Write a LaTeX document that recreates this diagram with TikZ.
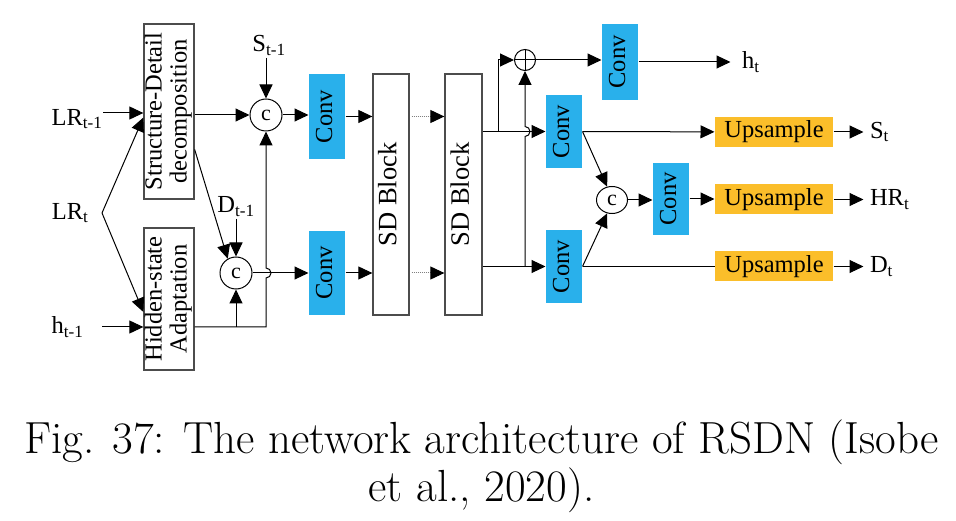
\documentclass[tikz,border=0pt]{standalone}
\usepackage{fontspec}
\setmainfont{Liberation Serif}
\usepackage{tikz}
\usetikzlibrary{positioning}
\usetikzlibrary{arrows.meta}
\usetikzlibrary{shapes.geometric}
\usepackage{xcolor}
\definecolor{convblue}{RGB}{41,176,235}
\definecolor{upyellow}{RGB}{251,190,42}
\newcommand{\capfont}{\fontfamily{lmr}\selectfont}
\newcommand{\vtext}[1]{\rotatebox{90}{\begin{tabular}{@{}c@{}}#1\end{tabular}}}

\begin{document}
\begin{tikzpicture}[x=1pt, y=-1pt, line width=1pt,
  every node/.style={font=\fontsize{24.5}{25}\selectfont, inner sep=0pt},
  arr/.style={-{Triangle[length=14pt,width=13pt]}},
  blockbox/.style={draw=black!70, line width=1.3pt, fill=white, minimum width=#1},
  blockbox/.default=50pt,
  conv/.style={fill=convblue, minimum width=36pt},
  upbox/.style={fill=upyellow, minimum width=118pt, minimum height=30pt},
  cat/.style={draw, circle, minimum size=32pt, font=\fontsize{22}{22}\selectfont},
  lbl/.style={inner sep=2pt}]
  \useasboundingbox (0,0) rectangle (956,521);

  \node[blockbox, minimum height=175pt] (sdd) at (169,111.5) {\vtext{Structure-Detail\\decomposition}};
  \node[blockbox, minimum height=142pt] (hsa) at (169,299) {\vtext{Hidden-state\\Adaptation}};
  \node[cat] (catA) at (266,115) {c};
  \node[cat] (catB) at (236,273) {c};
  \node[conv, minimum height=85pt] (convA) at (327,116.5) {\vtext{Conv}};
  \node[conv, minimum height=84pt] (convB) at (327,273) {\vtext{Conv}};
  \node[blockbox=36pt, minimum height=241pt, font=\fontsize{26.5}{27}\selectfont] (sdb1) at (391,194.5) {\vtext{SD Block}};
  \node[blockbox=37pt, minimum height=241pt, font=\fontsize{26.5}{27}\selectfont] (sdb2) at (463.5,194.5) {\vtext{SD Block}};
  \node[draw, circle, minimum size=21pt] (plus) at (525,60) {};
  \node[conv, minimum height=76pt] (convC) at (620,62) {\vtext{Conv}};
  \node[conv, minimum height=73pt] (convD) at (564,131.5) {\vtext{Conv}};
  \node[conv, minimum height=73pt] (convE) at (564,266.5) {\vtext{Conv}};
  \node[draw, ellipse, minimum width=31pt, minimum height=27pt, font=\fontsize{22}{22}\selectfont] (catC) at (612,200) {c};
  \node[conv, minimum height=72pt] (convF) at (671,199) {\vtext{Conv}};
  \node[upbox] (up1) at (774,132) {Upsample};
  \node[upbox] (up2) at (774,199.5) {Upsample};
  \node[upbox] (up3) at (774,266.5) {Upsample};

  \coordinate (lrin) at (103,113);
  \coordinate (lrs) at (102,213);
  \coordinate (hin) at (102,327);
  \node[anchor=east] (lrt1) at ([yshift=-6pt]lrin) {LR\textsubscript{t-1}};
  \node[left=13pt of lrs] (lrt) {LR\textsubscript{t}};
  \node[left=18pt of hin] (ht1) {h\textsubscript{t-1}};
  \node[lbl, anchor=south] (st1) at (269,58) {S\textsubscript{t-1}};
  \node[lbl, anchor=south] (dt1) at (236,219) {D\textsubscript{t-1}};
  \node[lbl, inner xsep=11pt, right=92pt of convC] (ht) {h\textsubscript{t}};
  \node[lbl, inner xsep=6pt, right=30pt of up1] (st) {S\textsubscript{t}};
  \node[lbl, inner xsep=6pt, right=30pt of up2] (hrt) {HR\textsubscript{t}};
  \node[lbl, inner xsep=6pt, right=30pt of up3] (dt) {D\textsubscript{t}};

  \draw[arr] (lrin) -- (lrin -| sdd.west);
  \draw[arr] (lrs) -- ([yshift=-6pt]sdd.west);
  \draw[arr] (lrs) -- ([yshift=-13pt]hsa.west);
  \draw[arr] (hin) -- (hin -| hsa.west);
  \draw[arr] (catA -| sdd.east) -- (catA);
  \draw[arr] (catA.north |- st1.south) -- (catA);
  \draw[arr] ([yshift=-38pt]sdd.east) -- (catB.120);
  \draw[arr] (catB.north |- dt1.south) -- (catB);
  \draw[arr] (hin -| hsa.east) -- (catA.south |- hin) -- ([yshift=-5pt]catA.south |- catB)
    arc[start angle=-90, end angle=90, radius=5pt] -- (catA.south);
  \draw[arr] (catB.south |- hin) -- (catB);
  \draw[arr] (catA) -- (catA -| convA.west);
  \draw[arr] (catB) -- (catB -| convB.west);
  \draw[arr] (convA) -- (convA -| sdb1.west);
  \draw[arr] (convB) -- (convB -| sdb1.west);
  \draw[-{Triangle[length=14pt,width=13pt,color=black]}, densely dotted, draw=gray]
    ([xshift=2pt]convA -| sdb1.east) -- (convA -| sdb2.west);
  \draw[-{Triangle[length=14pt,width=13pt,color=black]}, densely dotted, draw=gray]
    ([xshift=2pt]convB -| sdb1.east) -- (convB -| sdb2.west);
  \draw[arr] (convD -| sdb2.east) -- (convD);
  \draw[arr] (convE -| sdb2.east) -- (convE);
  \draw[arr] ([xshift=16pt]convD -| sdb2.east) |- (plus);
  \draw[arr] (plus |- convE) -- ([yshift=-5pt]plus |- convD)
    arc[start angle=-90, end angle=90, radius=5pt] -- (plus);
  \draw (plus.north) -- (plus.south) (plus.west) -- (plus.east);
  \draw[arr] (plus) -- (plus -| convC.west);
  \draw[arr] (convC) -- (ht);
  \draw[arr] (convD) -- (up1);
  \draw[arr] (convD.east) -- (catC.110);
  \draw[arr] (convE.east) -- (catC.250);
  \draw (convE) -- (up3);
  \draw[arr] (catC) -- (catC -| convF.west);
  \draw[arr] (convF) -- (convF -| up2.west);
  \draw[arr] (up1) -- (st);
  \draw[arr] (up2) -- (hrt);
  \draw[arr] (up3) -- (dt);

  \node[anchor=base, font=\capfont\fontsize{45}{48}\selectfont] (cap1) at (481.5,453)
    {Fig. 37: The network architecture of RSDN (Isobe};
  \node[anchor=base, font=\capfont\fontsize{45}{48}\selectfont] (cap2) at (481.5,501)
    {et al., 2020).};
\end{tikzpicture}
\end{document}
